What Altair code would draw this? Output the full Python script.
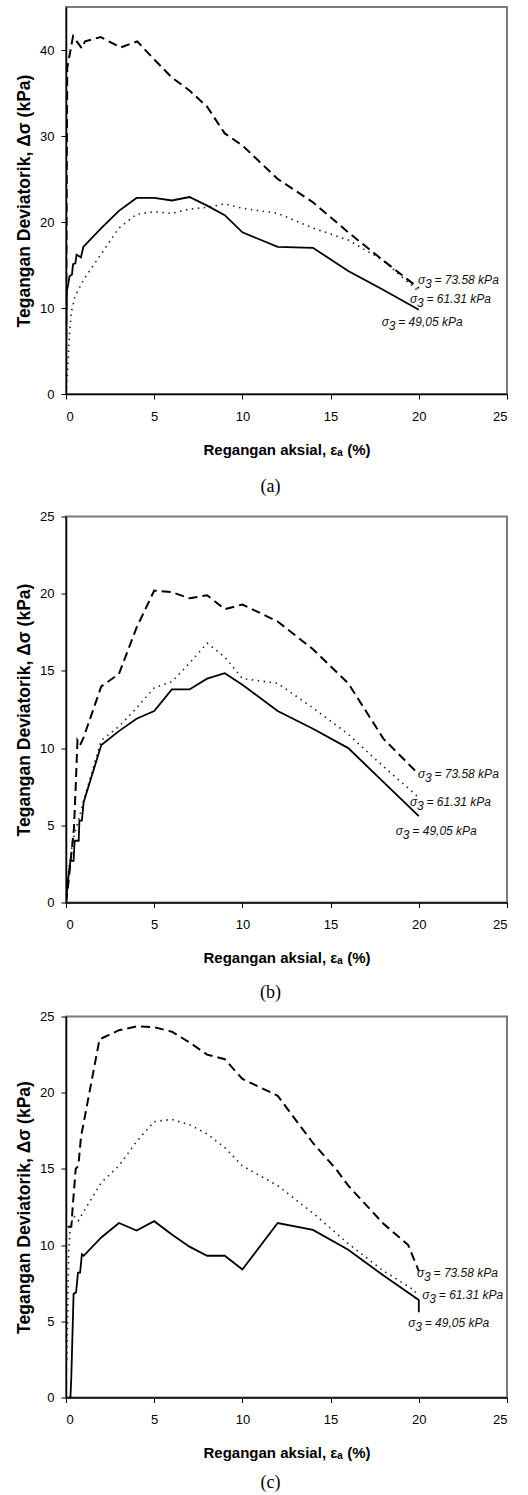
import altair as alt
import pandas as pd

X_TICKS = [0, 5, 10, 15, 20, 25]
LABEL_TEXT = ["= 73.58 kPa", "= 61.31 kPa", "= 49,05 kPa"]
CAPTIONS = ["(a)", "(b)", "(c)"]

# ---------- Panel (a) ----------
a_hi_x = [0, 0.03, 0.07, 0.4, 0.89, 1.08, 1.96, 3.1, 4.04, 5, 6, 7, 8, 9, 10, 12, 14, 16, 18, 20]
a_hi_y = [0, 20, 37.9, 41.6, 40.2, 41.0, 41.5, 40.3, 41.0, 38.9, 36.8, 35.3, 33.4, 30.3, 28.9, 25.0, 22.3, 18.8, 15.5, 12.3]
a_mid_x = [0, 0.1, 0.2, 0.3, 0.5, 1.0, 2, 3, 4, 5, 6, 7, 8, 9, 10, 12, 14, 16, 18, 20]
a_mid_y = [0, 3.0, 7.0, 9.5, 11.3, 13.3, 16.3, 19.3, 20.9, 21.2, 21.0, 21.5, 21.7, 22.1, 21.6, 21.0, 19.3, 17.9, 15.5, 11.9]
a_lo_x = [0, 0.02, 0.05, 0.13, 0.2, 0.34, 0.4, 0.53, 0.6, 0.85, 0.98, 2, 3, 4, 5, 6, 7, 8, 9, 10, 12, 14, 16, 18, 20]
a_lo_y = [0, 8, 12.0, 12.8, 13.7, 13.9, 15.1, 15.2, 16.2, 15.9, 17.1, 19.3, 21.3, 22.8, 22.8, 22.5, 22.9, 21.9, 20.8, 18.8, 17.1, 17.0, 14.3, 12.1, 9.8]
a_lab_x = [19.95, 19.5, 17.9]
a_lab_y = [13.3, 11.0, 8.4]

# ---------- Panel (b) ----------
b_hi_x = [0, 0.15, 0.3, 0.45, 0.55, 0.65, 0.8, 1.0, 2, 3, 4, 5, 6, 7, 8, 9, 10, 12, 14, 16, 18, 20]
b_hi_y = [0, 1.4, 3.1, 4.8, 7.5, 10.5, 10.2, 10.7, 14.0, 14.8, 17.8, 20.2, 20.1, 19.7, 19.9, 19.0, 19.3, 18.2, 16.4, 14.2, 10.6, 8.3]
b_mid_x = [0, 0.1, 0.2, 0.35, 0.5, 0.8, 1.0, 2, 3, 4, 5, 6, 7, 8, 9, 10, 12, 14, 16, 18, 20]
b_mid_y = [0, 1.5, 2.5, 3.8, 4.5, 5.7, 6.6, 10.5, 11.4, 12.6, 13.9, 14.3, 15.5, 16.8, 15.9, 14.5, 14.2, 12.6, 10.9, 8.8, 6.8]
b_lo_x = [0, 0.11, 0.25, 0.43, 0.49, 0.72, 0.76, 0.9, 1.0, 2, 3, 4, 5, 6, 7, 8, 9, 10, 12, 14, 16, 18, 20]
b_lo_y = [0, 1.4, 2.7, 2.7, 4.0, 4.0, 5.3, 5.3, 6.5, 10.2, 11.1, 11.9, 12.4, 13.8, 13.8, 14.5, 14.85, 14.1, 12.4, 11.25, 10.0, 7.8, 5.6]
b_lab_x = [19.95, 19.5, 18.7]
b_lab_y = [8.3, 6.5, 4.6]

# ---------- Panel (c) ----------
c_hi_x = [0.1, 0.3, 0.38, 0.55, 0.7, 0.85, 1.9, 3, 4, 5, 6, 7, 8, 9, 10, 12, 14, 15.3, 16, 18, 19.4, 20]
c_hi_y = [11.2, 11.2, 12.5, 15.0, 15.2, 17.1, 23.5, 24.1, 24.35, 24.3, 24.0, 23.3, 22.5, 22.2, 20.9, 19.8, 16.7, 15.0, 13.9, 11.4, 10.0, 8.3]
c_mid_x = [0.05, 0.1, 0.15, 0.25, 0.45, 0.7, 1.0, 2, 3, 4, 5, 6, 7, 8, 9, 10, 12, 14, 16, 18, 19.8, 19.8]
c_mid_y = [2.5, 6.0, 9.5, 11.3, 11.9, 11.6, 12.2, 14.1, 15.2, 16.8, 18.1, 18.25, 17.9, 17.3, 16.4, 15.2, 13.9, 12.1, 10.1, 8.3, 7.0, 6.3]
c_lo_x = [0.15, 0.25, 0.3, 0.43, 0.57, 0.68, 0.8, 0.9, 1.0, 2, 3, 4, 5, 6, 7, 8, 9, 10, 12, 14, 16, 18, 20, 20]
c_lo_y = [0, 0, 1.3, 6.8, 6.9, 8.2, 8.2, 9.4, 9.3, 10.5, 11.45, 10.96, 11.57, 10.7, 9.9, 9.3, 9.3, 8.4, 11.45, 11.0, 9.7, 8.0, 6.4, 5.6]
c_lab_x = [19.9, 20.2, 19.4]
c_lab_y = [8.2, 6.75, 4.86]

SANS = "Liberation Sans, Arial, DejaVu Sans"
SERIF = "Liberation Serif, Times New Roman"

STYLES = {
    "lo": dict(color="black", strokeWidth=1.8),
    "mid": dict(color="#222222", strokeWidth=1.6, strokeDash=[1.5, 4.5]),
    "hi": dict(color="black", strokeWidth=2, strokeDash=[9, 5]),
}


def panel(series, lab_x, lab_y, ymax, yvals, height, caption, cap_offset):
    xenc = alt.X("x:Q", scale=alt.Scale(domain=[0, 25], nice=False, zero=False),
                 axis=alt.Axis(values=X_TICKS, title="Regangan aksial, εₐ (%)"))
    yenc = alt.Y("y:Q", scale=alt.Scale(domain=[0, ymax], nice=False),
                 axis=alt.Axis(values=yvals, title="Tegangan Deviatorik, Δσ (kPa)",
                               titleFontSize=17.5))
    layers = []
    for key in ["mid", "lo", "hi"]:
        xs, ys = series[key]
        df = pd.DataFrame({"x": xs, "y": ys, "i": list(range(len(xs)))})
        layers.append(
            alt.Chart(df).mark_line(clip=True, **STYLES[key]).encode(
                x=xenc, y=yenc, order=alt.Order("i:Q"))
        )
    lab = pd.DataFrame({"x": lab_x, "y": lab_y, "t": LABEL_TEXT})
    tb = alt.Chart(lab).encode(x=xenc, y=yenc)
    common = dict(align="left", baseline="middle", font=SANS, fontStyle="italic",
                  fontSize=12, color="#111111")
    layers.append(tb.mark_text(dx=0, **common).encode(text=alt.value("σ")))
    layers.append(tb.mark_text(dx=7, dy=4, **common).encode(text=alt.value("3")))
    layers.append(tb.mark_text(dx=16.5, **common).encode(text=alt.Text("t:N")))
    return alt.layer(*layers).properties(
        width=441, height=height,
        title=alt.TitleParams(caption, orient="bottom", anchor="middle", dx=-16,
                              offset=cap_offset, font=SERIF, fontSize=18,
                              fontWeight="normal", color="black"),
    )


pa = panel({"hi": (a_hi_x, a_hi_y), "mid": (a_mid_x, a_mid_y), "lo": (a_lo_x, a_lo_y)},
           a_lab_x, a_lab_y, 45, [0, 10, 20, 30, 40], 387, CAPTIONS[0], 21)
pb = panel({"hi": (b_hi_x, b_hi_y), "mid": (b_mid_x, b_mid_y), "lo": (b_lo_x, b_lo_y)},
           b_lab_x, b_lab_y, 25, [0, 5, 10, 15, 20, 25], 386, CAPTIONS[1], 18)
pc = panel({"hi": (c_hi_x, c_hi_y), "mid": (c_mid_x, c_mid_y), "lo": (c_lo_x, c_lo_y)},
           c_lab_x, c_lab_y, 25, [0, 5, 10, 15, 20, 25], 381, CAPTIONS[2], 13)

chart = alt.vconcat(alt.vconcat(pa, pb, spacing=12.5), pc, spacing=6.5).properties(
    padding={"left": 14, "top": 6, "right": 8, "bottom": 2},
    background="white",
).configure_view(
    stroke="#7a7a7a", strokeWidth=2
).configure_axis(
    grid=False, labelFont=SANS, labelFontSize=13, labelColor="black",
    tickColor="black", tickSize=5, domainColor="black", domainWidth=1.5,
    titleFont=SANS, titleFontWeight="bold", titleColor="black",
).configure_axisX(
    labelPadding=11, titlePadding=19, titleFontSize=15,
).configure_axisY(
    labelPadding=7, titlePadding=6.5,
)

chart.save("out.html", embed_options={"renderer": "svg", "actions": False})
